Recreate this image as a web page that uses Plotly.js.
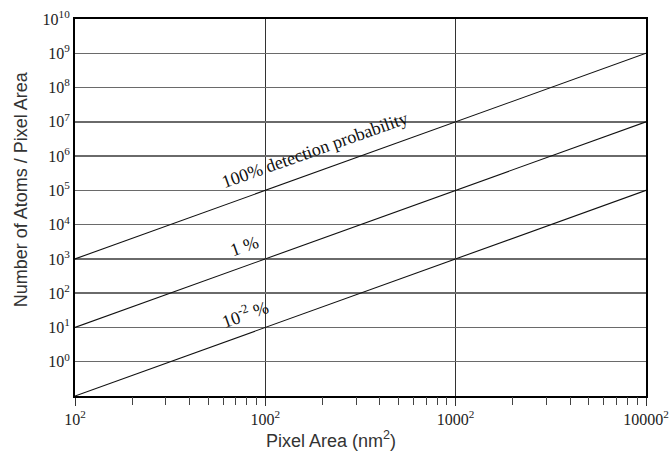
<!DOCTYPE html>
<html>
<head>
<meta charset="utf-8">
<script src="https://cdn.plot.ly/plotly-3.0.1.min.js"></script>
<style>html,body{margin:0;padding:0;background:#fff;}#chart{width:672px;height:458px;}</style>
</head>
<body>
<div id="chart"></div>
<script>
// Pixel area (nm^2) endpoints
const pixelArea = [1e2, 1e8];
// Number of atoms per pixel area for each detection probability
const atoms100 = [1e3, 1e9];
const atoms1 = [1e1, 1e7];
const atoms001 = [1e-1, 1e5];

const xTickVals = [1e2, 1e4, 1e6, 1e8];
const xTickText = ['10<sup>2</sup>', '100<sup>2</sup>', '1000<sup>2</sup>', '10000<sup>2</sup>'];
// minor ticks at pixel side lengths 20..90, 200..900, 2000..9000 nm
const sideDecades = [10, 100, 1000];
const sideDigits = [2, 3, 4, 5, 6, 7, 8, 9];
const xMinorVals = [];
sideDecades.forEach(d => sideDigits.forEach(k => xMinorVals.push(Math.pow(k * d, 2))));

const yExponents = [0,1,2,3,4,5,6,7,8,9,10];
const yTickVals = yExponents.map(e => Math.pow(10, e));
const yTickText = yExponents.map(e => '10<sup>' + e + '</sup>');

const labels = ['100% detection probability', '1 %', '10<sup>-2</sup> %'];
const labelX = [4.52, 3.78, 3.79];
const labelY = [6.17, 3.39, 1.40];

const lineStyle = {color: '#111', width: 1.1};
const traces = [atoms100, atoms1, atoms001].map(ys => ({
  x: pixelArea, y: ys, type: 'scatter', mode: 'lines', line: lineStyle, hoverinfo: 'skip'
}));
// invisible trace to carry the minor-tick axis
traces.push({x: pixelArea, y: atoms1, xaxis: 'x2', yaxis: 'y', type: 'scatter', mode: 'lines',
  line: {width: 0, color: 'rgba(0,0,0,0)'}, hoverinfo: 'skip'});

const serif = 'Liberation Serif, DejaVu Serif, serif';
const sans = 'Liberation Sans, Arial, sans-serif';

const annotations = labels.map((t, i) => ({
  x: labelX[i], y: labelY[i], xref: 'x', yref: 'y', text: t, showarrow: false,
  textangle: -19.5, font: {family: serif, size: 18, color: '#111'}
}));
annotations.push({
  text: 'Pixel Area (nm<sup>2</sup>)', xref: 'paper', yref: 'paper', x: 0.449, y: -0.115,
  xanchor: 'center', yanchor: 'middle', showarrow: false,
  font: {family: sans, size: 18, color: '#333'}
});
annotations.push({
  text: 'Number of Atoms / Pixel Area', xref: 'paper', yref: 'paper', x: -0.093, y: 0.548,
  xanchor: 'center', yanchor: 'middle', showarrow: false, textangle: -90,
  font: {family: sans, size: 18, color: '#333'}
});

const layout = {
  width: 672, height: 458,
  margin: {l: 75, r: 26, t: 19, b: 62},
  paper_bgcolor: '#fff', plot_bgcolor: '#fff',
  showlegend: false,
  xaxis: {
    type: 'log', range: [2, 8],
    tickmode: 'array', tickvals: xTickVals, ticktext: xTickText,
    ticks: 'outside', ticklen: 8, tickcolor: '#333', tickwidth: 1,
    showgrid: true, gridcolor: '#333', gridwidth: 1,
    showline: true, mirror: true, linecolor: '#000', linewidth: 2,
    zeroline: false,
    tickfont: {family: serif, size: 16, color: '#222'}
  },
  xaxis2: {
    type: 'log', range: [2, 8], overlaying: 'x', side: 'bottom', anchor: 'y',
    tickmode: 'array', tickvals: xMinorVals, ticktext: xMinorVals.map(() => ''),
    ticks: 'outside', ticklen: 8, tickcolor: '#444', tickwidth: 1,
    showgrid: false, showline: false, zeroline: false
  },
  yaxis: {
    type: 'log', range: [-1, 10],
    tickmode: 'array', tickvals: yTickVals, ticktext: yTickText,
    ticks: '', ticklen: 0,
    showgrid: true, gridcolor: '#6a6a6a', gridwidth: 1.5,
    showline: true, mirror: true, linecolor: '#000', linewidth: 2,
    zeroline: false,
    tickfont: {family: serif, size: 16, color: '#222'}
  },
  annotations: annotations
};

Plotly.newPlot('chart', traces, layout, {displayModeBar: false, staticPlot: true});
</script>
</body>
</html>
